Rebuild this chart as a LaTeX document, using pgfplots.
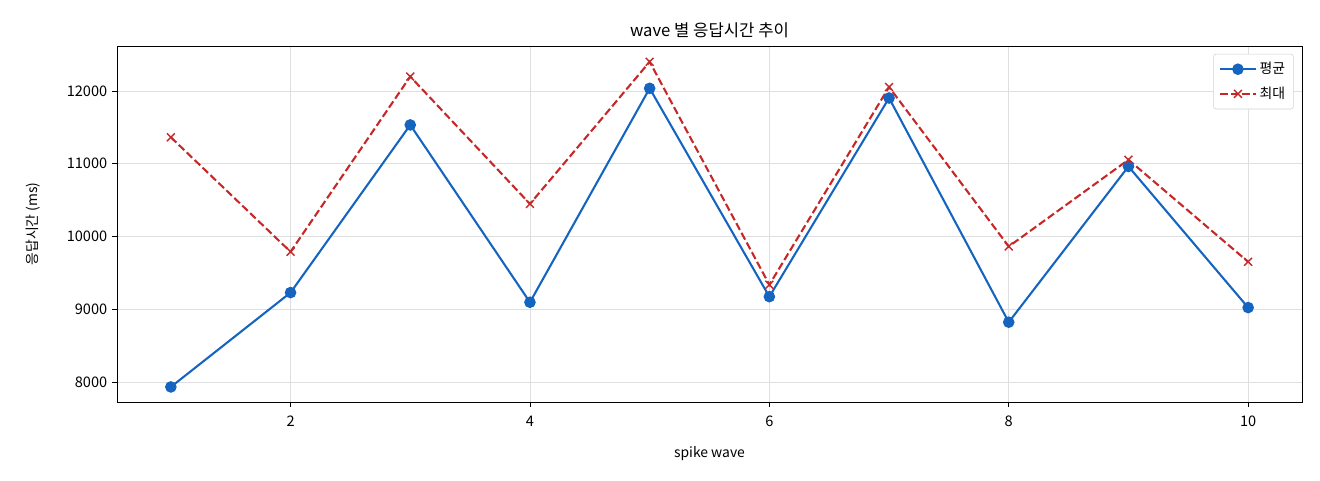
\documentclass[border=0pt]{standalone}
\usepackage{fontspec}
\setmainfont{Noto Sans CJK KR}
\usepackage{pgfplots}
\pgfplotsset{compat=1.18}
\definecolor{cblue}{HTML}{1565C0}
\definecolor{cred}{HTML}{C62828}
\begin{document}
\begin{tikzpicture}
\useasboundingbox (-84.24pt,-56.16pt) rectangle (866.16pt,289.44pt);
\begin{axis}[
  at={(0,0)}, anchor=south west,
  scale only axis, width=853.2pt, height=256.32pt,
  xmin=0.55, xmax=10.45, ymin=7725, ymax=12619,
  xtick={2,4,6,8,10}, ytick={8000,9000,10000,11000,12000},
  scaled y ticks=false,
  /pgf/number format/1000 sep={},
  /pgf/number format/assume math mode=true,
  tick label style={font=\fontsize{10.5}{12}\selectfont},
  xticklabel style={yshift=-3pt},
  tick align=outside, tick pos=left,
  major tick length=3.5pt,
  every tick/.style={black, line width=0.6pt},
  axis line style={line width=0.6pt},
  grid=major, grid style={gray!25, line width=0.6pt},
  title={wave 별 응답시간 추이},
  title style={font=\fontsize{12}{14}\selectfont, yshift=-3.5pt},
  xlabel={spike wave}, ylabel={응답시간 (ms)},
  label style={font=\fontsize{10}{12}\selectfont},
  xlabel style={yshift=-7.5pt},
  ylabel style={yshift=12pt},
  legend style={font=\fontsize{10}{12}\selectfont, draw=gray!35, rounded corners=2pt, inner sep=4pt, row sep=4pt, at={(0.993,0.978)}, anchor=north east},
  legend image code/.code={\draw[mark repeat=2,mark phase=2] plot coordinates {(0cm,0cm) (0.45cm,0cm) (0.9cm,0cm)};},
  legend cell align=left,
]
\addplot[cblue, line width=1.5pt, mark=*, mark size=3.4pt, mark options={solid}] coordinates {
(1,7932) (2,9229) (3,11534) (4,9096) (5,12037) (6,9173) (7,11904) (8,8822) (9,10963) (10,9023)};
\addlegendentry{평균}
\addplot[cred, line width=1.5pt, dash pattern=on 5.5pt off 2.4pt, mark=x, mark size=4pt, mark options={solid, line width=1pt}] coordinates {
(1,11364) (2,9790) (3,12199) (4,10448) (5,12402) (6,9337) (7,12055) (8,9863) (9,11055) (10,9652)};
\addlegendentry{최대}
\end{axis}
\end{tikzpicture}
\end{document}
